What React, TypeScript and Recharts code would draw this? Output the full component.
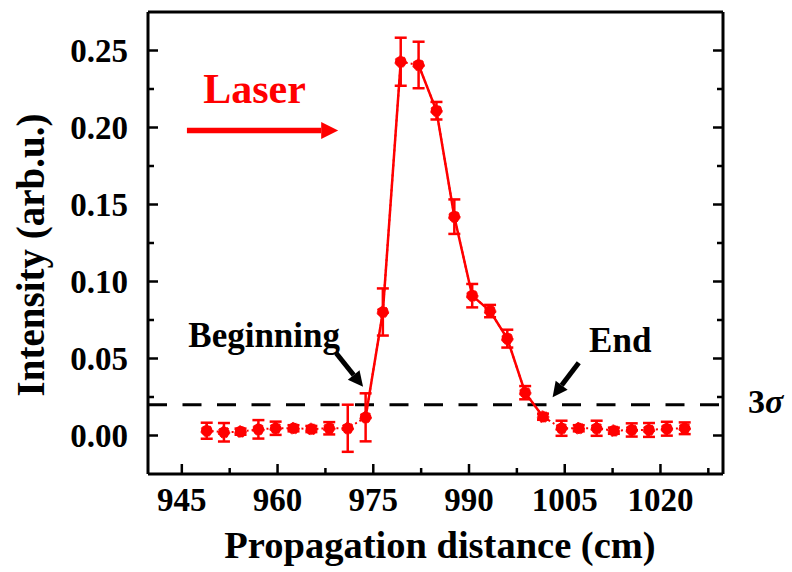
import { LineChart, Line, XAxis, YAxis, ErrorBar, ReferenceLine, ReferenceDot } from 'recharts';

const RED = '#ff0000';
const FONT = "'Liberation Serif', Tinos, 'Times New Roman', 'DejaVu Serif', serif";

// propagation distance (cm), intensity (arb.u.) and its error bar half-height
const positions = [
  948.9, 951.6, 954.2, 957.0, 959.7, 962.5, 965.3, 968.1, 971.0, 973.8,
  976.5, 979.3, 982.1, 984.9, 987.7, 990.5, 993.3, 996.0, 998.8, 1001.6,
  1004.5, 1007.2, 1010.0, 1012.7, 1015.5, 1018.2, 1021.0, 1023.8,
];
const intensity = [
  0.0031, 0.0021, 0.0025, 0.004, 0.0047, 0.0047, 0.0042, 0.0047, 0.0047, 0.0118,
  0.0802, 0.2427, 0.2406, 0.2109, 0.1421, 0.0908, 0.0808, 0.0629, 0.0278, 0.0122,
  0.0047, 0.0047, 0.0047, 0.0031, 0.0036, 0.0036, 0.0044, 0.0047,
];
const errors = [
  0.0052, 0.006, 0.002, 0.006, 0.0043, 0.002, 0.002, 0.004, 0.0153, 0.0156,
  0.0153, 0.0156, 0.0151, 0.0057, 0.0112, 0.0076, 0.004, 0.0058, 0.0043, 0.002,
  0.0049, 0.002, 0.0049, 0.002, 0.0043, 0.0045, 0.0045, 0.0038,
];
// index ranges joined by a solid line (the rest is dotted)
const solidRise = [9, 11];
const solidFall = [12, 19];

const xMajor = [945, 960, 975, 990, 1005, 1020];
const xMinor = [952.5, 967.5, 982.5, 997.5, 1012.5, 1027.5];
const yMajor = [0, 0.05, 0.1, 0.15, 0.2, 0.25];
const yMinor = [0.025, 0.075, 0.125, 0.175, 0.225];
const xDomain: [number, number] = [939.7, 1029.8];
const yDomain: [number, number] = [-0.025, 0.275];
const threshold = 0.02; // 3 sigma level

// annotations (data coordinates)
const laserText = { x: 956.4, y: 0.2157 };
const laserArrow = [{ x: 945.8, y: 0.198 }, { x: 969.5, y: 0.198 }];
const beginText = { x: 957.9, y: 0.0577 };
const beginArrow = [{ x: 969.2, y: 0.0534 }, { x: 973.4, y: 0.0317 }];
const endText = { x: 1013.7, y: 0.054 };
const endArrow = [{ x: 1007.2, y: 0.0473 }, { x: 1003.1, y: 0.0248 }];

const xTicksAll = [...xMajor, ...xMinor].sort((a, b) => a - b);
const yTicksAll = [...yMajor, ...yMinor].sort((a, b) => a - b);

const inRange = (i: number, r: number[]) => i >= r[0] && i <= r[1];

const data = positions.map((x, i) => ({
  x,
  y: intensity[i],
  err: errors[i],
  rise: inRange(i, solidRise) ? intensity[i] : null,
  fall: inRange(i, solidFall) ? intensity[i] : null,
}));

const X_MARGIN = 14;
const Y_MARGIN = 20;
const MAJOR_LEN = 10;
const MINOR_LEN = 6;
const TICK_W = 2.5;
const labelFont = { fontFamily: FONT, fontWeight: 700, fontSize: 33, fill: '#000' };

// ticks point inward; labels only on major ticks
const bottomTick = (p: any) => {
  const v = p.payload.value;
  const major = xMajor.includes(v);
  const axisY = p.y - X_MARGIN;
  return (
    <g>
      <line x1={p.x} x2={p.x} y1={axisY} y2={axisY - (major ? MAJOR_LEN : MINOR_LEN)} stroke="#000" strokeWidth={TICK_W} />
      {major && (
        <text x={p.x} y={p.y} dy="0.71em" textAnchor="middle" {...labelFont}>
          {v}
        </text>
      )}
    </g>
  );
};
const topTick = (p: any) => {
  const major = xMajor.includes(p.payload.value);
  return <line x1={p.x} x2={p.x} y1={p.y} y2={p.y + (major ? MAJOR_LEN : MINOR_LEN)} stroke="#000" strokeWidth={TICK_W} />;
};
const leftTick = (p: any) => {
  const v = p.payload.value;
  const major = yMajor.includes(v);
  const axisX = p.x + Y_MARGIN;
  return (
    <g>
      <line x1={axisX} x2={axisX + (major ? MAJOR_LEN : MINOR_LEN)} y1={p.y} y2={p.y} stroke="#000" strokeWidth={TICK_W} />
      {major && (
        <text x={p.x} y={p.y} dy="0.355em" textAnchor="end" {...labelFont}>
          {v.toFixed(2)}
        </text>
      )}
    </g>
  );
};
const rightTick = (p: any) => {
  const major = yMajor.includes(p.payload.value);
  return <line x1={p.x} x2={p.x - (major ? MAJOR_LEN : MINOR_LEN)} y1={p.y} y2={p.y} stroke="#000" strokeWidth={TICK_W} />;
};

const arrowShape = (color: string, width: number, head: number) => (p: any) => {
  const { x1, y1, x2, y2 } = p;
  const len = Math.hypot(x2 - x1, y2 - y1) || 1;
  const ux = (x2 - x1) / len;
  const uy = (y2 - y1) / len;
  const bx = x2 - ux * head;
  const by = y2 - uy * head;
  const h = head / 2;
  return (
    <g>
      <line x1={x1} y1={y1} x2={bx} y2={by} stroke={color} strokeWidth={width} />
      <polygon
        points={`${x2},${y2} ${bx - uy * h},${by + ux * h} ${bx + uy * h},${by - ux * h}`}
        fill={color}
      />
    </g>
  );
};

const textShape = (txt: string, color: string, size: number) => (p: any) => (
  <text x={p.cx} y={p.cy} textAnchor="middle" fontFamily={FONT} fontWeight={700} fontSize={size} fill={color}>
    {txt}
  </text>
);

const thresholdShape = (p: any) => (
  <g>
    <line x1={p.x1} y1={p.y1} x2={p.x2} y2={p.y2} stroke="#000" strokeWidth={3} strokeDasharray="19 15.5" />
    <text x={p.x2 + 25} y={p.y1 + 8.5} fontFamily={FONT} fontWeight={700} fontSize={34} fill="#000">
      3<tspan fontStyle="italic">σ</tspan>
    </text>
  </g>
);

const frame = { stroke: '#000', strokeWidth: 3 };

export default function App() {
  return (
    <div style={{ position: 'absolute', left: 0, top: 0, width: 792, height: 572, background: '#fff' }}>
      <LineChart width={792} height={572} data={data} margin={{ top: 12, right: 69, bottom: 0, left: 0 }}>
        <XAxis
          xAxisId="x"
          dataKey="x"
          type="number"
          domain={xDomain}
          allowDataOverflow
          ticks={xTicksAll}
          interval={0}
          height={98}
          stroke="#000"
          axisLine={frame}
          tickLine={false}
          tickSize={0}
          tickMargin={X_MARGIN}
          tick={bottomTick}
          label={{
            content: (lp: any) => {
              const vb = lp.viewBox || { x: 148, y: 474, width: 575, height: 98 };
              return (
                <text x={vb.x + vb.width / 2 + 4.5} y={vb.y + 84} textAnchor="middle" fontFamily={FONT} fontWeight={700} fontSize={38.5} fill="#000">
                  Propagation distance (cm)
                </text>
              );
            },
          }}
        />
        <XAxis
          xAxisId="xt"
          type="number"
          domain={xDomain}
          allowDataOverflow
          ticks={xTicksAll}
          interval={0}
          orientation="top"
          mirror
          stroke="#000"
          axisLine={frame}
          tickLine={false}
          tickSize={0}
          tickMargin={0}
          tick={topTick}
        />

        <YAxis
          yAxisId="y"
          type="number"
          domain={yDomain}
          allowDataOverflow
          ticks={yTicksAll}
          interval={0}
          width={148}
          stroke="#000"
          axisLine={frame}
          tickLine={false}
          tickSize={0}
          tickMargin={Y_MARGIN}
          tick={leftTick}
          label={{
            content: (lp: any) => {
              const vb = lp.viewBox || { x: 0, y: 12, width: 148, height: 462 };
              const cx = vb.x + 44;
              const cy = vb.y + vb.height / 2 + 12;
              return (
                <text x={cx} y={cy} transform={`rotate(-90 ${cx} ${cy})`} textAnchor="middle" fontFamily={FONT} fontWeight={700} fontSize={39} fill="#000">
                  Intensity (arb.u.)
                </text>
              );
            },
          }}
        />
        <YAxis
          yAxisId="yr"
          type="number"
          domain={yDomain}
          allowDataOverflow
          ticks={yTicksAll}
          interval={0}
          orientation="right"
          mirror
          stroke="#000"
          axisLine={frame}
          tickLine={false}
          tickSize={0}
          tickMargin={0}
          tick={rightTick}
        />

        <ReferenceLine xAxisId="x" yAxisId="y" y={threshold} shape={thresholdShape} />

        <Line
          xAxisId="x"
          yAxisId="y"
          dataKey="y"
          stroke={RED}
          strokeWidth={2}
          strokeDasharray="2 3"
          dot={{ r: 5.8, fill: RED, stroke: RED, strokeWidth: 1 }}
          activeDot={false}
          isAnimationActive={false}
        >
          <ErrorBar dataKey="err" stroke={RED} strokeWidth={2.5} width={6} direction="y" isAnimationActive={false} />
        </Line>
        <Line xAxisId="x" yAxisId="y" dataKey="rise" stroke={RED} strokeWidth={2.5} dot={false} activeDot={false} isAnimationActive={false} />
        <Line xAxisId="x" yAxisId="y" dataKey="fall" stroke={RED} strokeWidth={2.5} dot={false} activeDot={false} isAnimationActive={false} />

        <ReferenceLine xAxisId="x" yAxisId="y" segment={laserArrow} shape={arrowShape(RED, 5.5, 17)} />
        <ReferenceLine xAxisId="x" yAxisId="y" segment={beginArrow} shape={arrowShape('#000', 5, 15)} />
        <ReferenceLine xAxisId="x" yAxisId="y" segment={endArrow} shape={arrowShape('#000', 5, 15)} />
        <ReferenceDot xAxisId="x" yAxisId="y" x={laserText.x} y={laserText.y} shape={textShape('Laser', RED, 42)} />
        <ReferenceDot xAxisId="x" yAxisId="y" x={beginText.x} y={beginText.y} shape={textShape('Beginning', '#000', 35)} />
        <ReferenceDot xAxisId="x" yAxisId="y" x={endText.x} y={endText.y} shape={textShape('End', '#000', 35)} />
      </LineChart>
    </div>
  );
}
